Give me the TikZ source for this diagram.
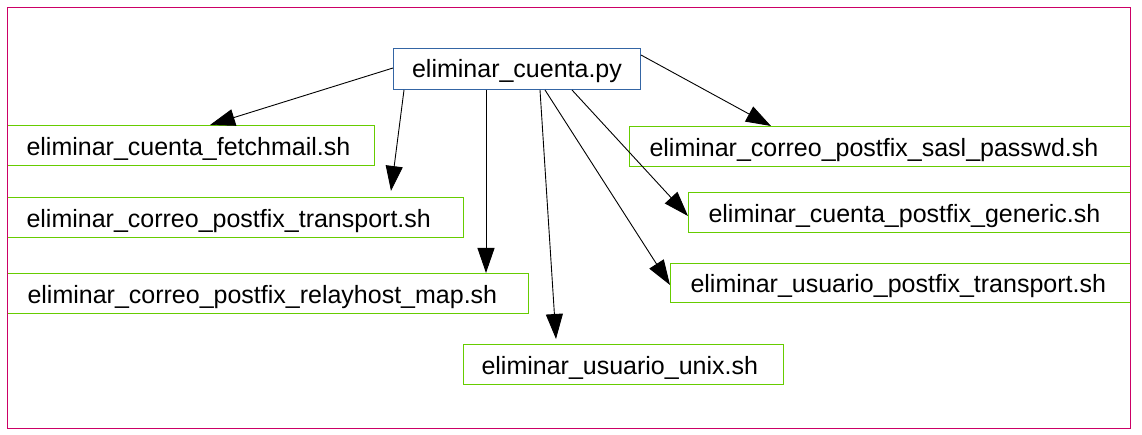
\documentclass[tikz,border=0pt]{standalone}
\usepackage{fontspec}
\setmainfont{Liberation Sans}
\usetikzlibrary{arrows.meta,calc}
\definecolor{leafgreen}{RGB}{102,204,0}
\definecolor{mainblue}{RGB}{52,101,164}
\definecolor{framemag}{RGB}{204,0,102}
\begin{document}
\begin{tikzpicture}[x=1pt,y=-1pt,
  every node/.style={font=\fontsize{25}{30}\selectfont},
  leaf/.style={draw=leafgreen,line width=1pt,anchor=north west,minimum height=40pt,
    inner xsep=19pt,inner ysep=0pt,align=left,text height=25pt,text depth=5pt},
  rootbox/.style={draw=mainblue,line width=1pt,anchor=north west,minimum height=41pt,
    minimum width=247pt,inner sep=0pt,text height=23pt,text depth=6pt},
  arr/.style={draw=black,line width=0.9pt,-{Triangle[length=25pt,width=17pt]}},
  frame/.style={draw=framemag,line width=1pt}]
\useasboundingbox (0,0) rectangle (1142,435);
\fill[white] (0,0) rectangle (1142,435);

\node[rootbox] (main) at (393,48) {eliminar\_cuenta.py};

\node[leaf,minimum width=367pt,text width=329pt] (fetch) at (7,125) {eliminar\_cuenta\_fetchmail.sh};
\node[leaf,minimum width=456pt,text width=418pt] (trans) at (7,197) {eliminar\_correo\_postfix\_transport.sh};
\node[leaf,minimum width=521pt,text width=481pt,inner xsep=20pt] (relay) at (7,273) {eliminar\_correo\_postfix\_relayhost\_map.sh};
\node[leaf,minimum width=320pt,text width=284pt,inner xsep=18pt] (unix) at (463,344) {eliminar\_usuario\_unix.sh};
\node[leaf,minimum width=501pt,text width=461pt,inner xsep=20pt] (sasl) at (629,126) {eliminar\_correo\_postfix\_sasl\_passwd.sh};
\node[leaf,minimum width=442pt,text width=402pt,inner xsep=20pt] (gen) at (688,192) {eliminar\_cuenta\_postfix\_generic.sh};
\node[leaf,minimum width=460pt,text width=420pt,inner xsep=20pt,minimum height=39pt] (usr) at (670,263) {eliminar\_usuario\_postfix\_transport.sh};

\draw[arr] ($(main.north west)+(0,20)$) -- ($(fetch.north west)+(203,0)$);
\draw[arr] ($(main.south west)+(11,0)$) -- ($(trans.north west)+(384,-6)$);
\draw[arr] ($(main.south west)+(93,0)$) -- ($(relay.north west)+(479,0)$);
\draw[arr] ($(main.south west)+(147,0)$) -- ($(unix.north west)+(93,-5)$);
\draw[arr] ($(main.south west)+(152,0)$) -- ($(usr.north west)+(0,22)$);
\draw[arr] ($(main.south west)+(179,0)$) -- ($(gen.north west)+(0,24)$);
\draw[arr] ($(main.north east)+(0,7)$) -- ($(sasl.north west)+(142,0)$);

\draw[frame] (7,8) rectangle (1130,428);
\end{tikzpicture}
\end{document}
